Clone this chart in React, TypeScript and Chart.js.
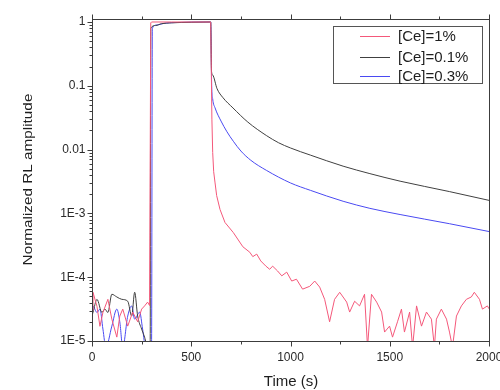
import React, { useEffect, useRef } from "react";
import { Chart, registerables } from "chart.js";

Chart.register(...registerables);

const seriesLabels = ["[Ce]=1%", "[Ce]=0.1%", "[Ce]=0.3%"];
const seriesColors = ["#f4587a", "#404040", "#4a4af2"];

const xTickValues = [0, 500, 1000, 1500, 2000];
const xTickLabels = ["0", "500", "1000", "1500", "2000"];
const xMinorTicks = [250, 750, 1250, 1750];
const yTickValues = [1, 0.1, 0.01, 1e-3, 1e-4, 1e-5];
const yTickLabels = ["1", "0.1", "0.01", "1E-3", "1E-4", "1E-5"];
const xTitle = "Time (s)";
const yTitle = "Normalized RL amplitude";

// [Ce]=1%
const redTime = [0, 5, 25, 40, 55, 80, 100, 125, 140, 155, 180, 205, 230, 250, 265, 280, 290, 296, 300, 400, 500, 598,
  604, 608, 613, 620, 628, 645, 670, 712, 760, 795, 810, 830, 850, 875, 895, 910, 935, 956, 981, 1006, 1030, 1061, 1097,
  1122, 1147, 1172, 1197, 1222, 1248, 1283, 1298, 1323, 1348, 1373, 1388, 1408, 1434, 1459, 1474, 1499, 1514, 1539,
  1559, 1574, 1600, 1615, 1635, 1660, 1685, 1710, 1725, 1735, 1760, 1786, 1801, 1816, 1836, 1861, 1886, 1911, 1926,
  1952, 1967, 1992, 2000];
const redValue = [3.0e-5, 5.8e-5, 3.5e-5, 1.7e-5, 2.8e-5, 4.5e-5, 2.2e-5, 1.15e-5, 2.46e-5, 3.16e-5, 1.71e-5, 2.84e-5,
  2.0e-5, 3.16e-5, 3.55e-5, 4.07e-5, 3.6e-5, 0.97, 1.0, 1.0, 1.0, 1.0,
  0.03, 0.009, 0.0045, 0.003, 0.0019, 0.00115, 7.2e-4, 5.0e-4, 3.0e-4, 2.46e-4, 2.1e-4, 2.3e-4, 1.8e-4, 1.5e-4, 1.33e-4,
  1.49e-4, 1.25e-4, 1.05e-4, 1.2e-4, 8.7e-5, 9.3e-5, 6.5e-5, 7.2e-5, 8.7e-5, 7.0e-5, 4.5e-5, 2.0e-5, 4.5e-5, 5.8e-5,
  4.07e-5, 2.84e-5, 4.2e-5, 3.55e-5, 5.4e-5, 8e-6, 5.4e-5, 4.07e-5, 2.84e-5, 1.38e-5, 1.71e-5, 1.15e-5, 2.0e-5,
  3.16e-5, 1.38e-5, 2.84e-5, 8e-6, 3.55e-5, 1.71e-5, 2.84e-5, 2.2e-5, 8e-6, 2.2e-5, 3.16e-5, 2.2e-5, 1.38e-5, 8e-6,
  2.46e-5, 3.55e-5, 4.5e-5, 4.9e-5, 5.8e-5, 4.5e-5, 3.16e-5, 3.55e-5, 3.2e-5];

// [Ce]=0.1%
const blackTime = [0, 5, 25, 50, 65, 80, 100, 125, 150, 180, 200, 215, 230, 250, 265, 280, 293, 296, 320, 350, 400, 500,
  598, 602, 608, 630, 660, 710, 785, 880, 940, 1000, 1100, 1265, 1400, 1552, 1800, 2000];
const blackValue = [2.5e-5, 2.8e-5, 4.5e-5, 2.8e-5, 3.16e-5, 2.8e-5, 5.4e-5, 4.9e-5, 4.5e-5, 4.2e-5, 2.46e-5, 5.8e-5,
  2.46e-5, 1.54e-5, 1.15e-5, 8e-6, 8e-6, 0.8, 0.88, 0.94, 0.97, 0.99,
  1.0, 0.17, 0.148, 0.09, 0.065, 0.045, 0.027, 0.0165, 0.0128, 0.0106, 0.0082, 0.0055, 0.0042, 0.0032, 0.0022, 0.0016];

// [Ce]=0.3%
const blueTime = [0, 5, 25, 40, 55, 70, 100, 125, 140, 155, 180, 200, 215, 240, 255, 270, 300, 304, 330, 360, 420,
  598, 603, 608, 620, 650, 680, 712, 750, 800, 880, 1000, 1100, 1265, 1400, 1552, 1800, 2000];
const blueValue = [2.2e-5, 3.5e-5, 2.8e-5, 3.16e-5, 1.54e-5, 8e-6, 1.71e-5, 3.16e-5, 2.0e-5, 8e-6, 2.46e-5, 3.55e-5,
  2.2e-5, 2.84e-5, 1.54e-5, 8e-6, 8e-6, 0.8, 0.9, 0.95, 0.98,
  1.0, 0.1, 0.062, 0.045, 0.028, 0.019, 0.0135, 0.0095, 0.0068, 0.0047, 0.003, 0.0023, 0.00155, 0.0012, 0.00096,
  0.00069, 0.00052];

const FONT = '"Liberation Sans", Arial, sans-serif';

const toPoints = (t: number[], v: number[]) => t.map((x, i) => ({ x, y: v[i] }));

const framePlugin = {
  id: "frame",
  afterDraw(chart: any) {
    const { ctx, chartArea } = chart;
    const xs = chart.scales.x;
    const ys = chart.scales.y;
    const L = Math.round(chartArea.left) + 0.5;
    const R = Math.round(chartArea.right) + 0.5;
    const T = Math.round(chartArea.top) + 0.5;
    const B = Math.round(chartArea.bottom) + 0.5;
    ctx.save();
    ctx.strokeStyle = "#3c3c3c";
    ctx.lineWidth = 1;
    ctx.strokeRect(L, T, R - L, B - T);

    ctx.beginPath();
    const xTick = (v: number, len: number) => {
      const px = Math.round(xs.getPixelForValue(v)) + 0.5;
      ctx.moveTo(px, B);
      ctx.lineTo(px, B + len);
      ctx.moveTo(px, T);
      ctx.lineTo(px, T - len);
    };
    xTickValues.forEach((v) => xTick(v, 5));
    xMinorTicks.forEach((v) => xTick(v, 3));
    yTickValues.forEach((v) => {
      const py = Math.round(ys.getPixelForValue(v)) + 0.5;
      ctx.moveTo(L, py);
      ctx.lineTo(L - 5, py);
    });
    for (let d = 0; d < yTickValues.length - 1; d++) {
      const base = yTickValues[d + 1];
      for (let m = 2; m <= 9; m++) {
        const py = Math.round(ys.getPixelForValue(base * m)) + 0.5;
        ctx.moveTo(L, py);
        ctx.lineTo(L - 3, py);
      }
    }
    ctx.stroke();

    ctx.fillStyle = "#2a2a2a";
    ctx.font = `12px ${FONT}`;
    ctx.textAlign = "center";
    ctx.textBaseline = "middle";
    xTickValues.forEach((v, i) => {
      ctx.fillText(xTickLabels[i], xs.getPixelForValue(v), B + 16);
    });
    ctx.textAlign = "right";
    yTickValues.forEach((v, i) => {
      ctx.fillText(yTickLabels[i], L - 7, ys.getPixelForValue(v));
    });

    ctx.font = `15px ${FONT}`;
    ctx.textAlign = "center";
    ctx.fillStyle = "#1e1e1e";
    ctx.fillText(xTitle, (L + R) / 2, 382);
    ctx.save();
    ctx.translate(29, (T + B) / 2 - 1);
    ctx.rotate(-Math.PI / 2);
    ctx.scale(1.02, 0.8);
    ctx.fillText(yTitle, 0, 0);
    ctx.restore();

    const lx = 333.5, ly = 26.5, lw = 149, lh = 57;
    ctx.strokeStyle = "#555555";
    ctx.strokeRect(lx, ly, lw, lh);
    const rows = [36, 56.5, 76];
    ctx.font = `15px ${FONT}`;
    ctx.textAlign = "left";
    chart.data.datasets.forEach((ds: any, i: number) => {
      ctx.strokeStyle = ds.borderColor;
      ctx.beginPath();
      ctx.moveTo(360, Math.round(rows[i]) + 0.5);
      ctx.lineTo(390, Math.round(rows[i]) + 0.5);
      ctx.stroke();
      ctx.fillStyle = "#1e1e1e";
      ctx.fillText(ds.label, 398, rows[i] + 1);
    });
    ctx.restore();
  },
};

export default function App() {
  const ref = useRef<HTMLCanvasElement | null>(null);
  useEffect(() => {
    if (!ref.current) return;
    const series = [toPoints(redTime, redValue), toPoints(blackTime, blackValue), toPoints(blueTime, blueValue)];
    const chart = new Chart(ref.current, {
      type: "line",
      data: {
        datasets: series.map((data, i) => ({
          label: seriesLabels[i],
          data,
          borderColor: seriesColors[i],
          borderWidth: 1,
          pointRadius: 0,
          tension: 0,
          cubicInterpolationMode: i === 0 ? "default" : "monotone",
          fill: false,
        })),
      },
      options: {
        animation: false,
        responsive: false,
        layout: { padding: { left: 92, right: 11, top: 19, bottom: 49 } },
        plugins: { legend: { display: false }, tooltip: { enabled: false }, title: { display: false } },
        scales: {
          x: { type: "linear", min: 0, max: 2000, display: false },
          y: { type: "logarithmic", min: 1e-5, max: 1.114, display: false },
        },
      },
      plugins: [framePlugin],
    });
    return () => chart.destroy();
  }, []);
  return (
    <div style={{ position: "fixed", left: 0, top: 0, width: 500, height: 390, background: "#fff" }}>
      <canvas ref={ref} width={500} height={390} style={{ width: 500, height: 390 }} />
    </div>
  );
}
